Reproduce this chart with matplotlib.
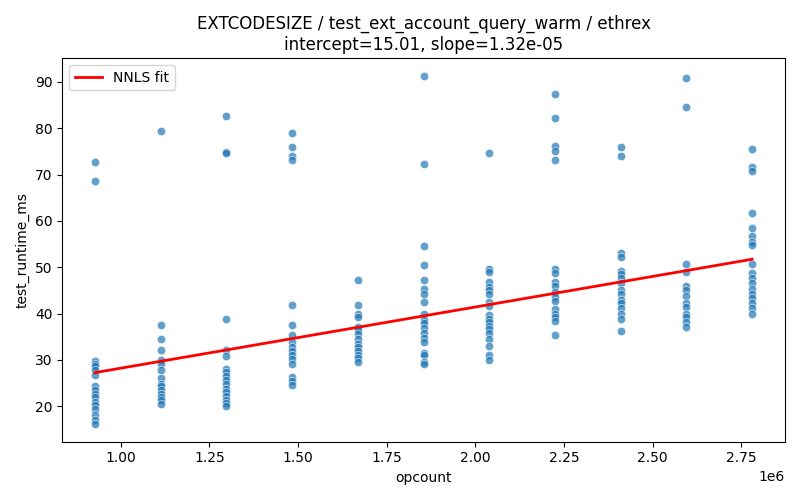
import numpy as np
import matplotlib
matplotlib.use('Agg')
from matplotlib import pyplot as plt

# opcount for each group of runs
opcounts = [927000, 1112400, 1297800, 1483200, 1668600, 1854000,
            2039400, 2224800, 2410200, 2595600, 2781000]

# runtime (ms) read per opcount group
runtimes = [
    [72.6, 68.7, 29.8, 29.2, 28.6, 27.8, 26.8, 24.3, 23.5, 22.7, 21.9, 20.9,
     20.2, 19.5, 18.1, 17.0, 16.1],
    [79.5, 37.5, 34.4, 32.2, 29.9, 29.1, 27.9, 26.0, 24.9, 24.3, 23.5, 22.7,
     22.0, 21.3, 20.4],
    [82.6, 74.8, 74.6, 38.9, 32.1, 30.8, 28.1, 27.4, 26.5, 25.6, 24.8, 23.8,
     23.1, 22.2, 21.3, 20.6, 20.1],
    [78.9, 75.9, 73.9, 73.1, 41.8, 37.6, 35.3, 33.9, 32.7, 31.9, 31.0, 30.1,
     29.2, 26.2, 25.5, 24.5],
    [47.2, 41.8, 40.0, 39.2, 37.1, 36.4, 35.5, 34.6, 33.5, 32.8, 31.9, 31.0,
     30.3, 29.6],
    [91.3, 72.2, 54.6, 50.5, 47.2, 45.4, 44.3, 42.5, 39.9, 38.7, 37.9, 36.8,
     35.7, 34.8, 33.9, 31.5, 31.0, 29.6, 29.2],
    [74.6, 49.7, 49.0, 46.7, 45.8, 45.1, 44.2, 42.5, 41.6, 39.7, 38.9, 38.2,
     37.3, 36.6, 35.7, 34.6, 33.0, 31.0, 29.9],
    [87.4, 82.1, 76.2, 75.1, 73.1, 49.7, 48.8, 46.8, 45.9, 44.7, 43.6, 42.7,
     40.9, 40.0, 39.2, 38.4, 35.3],
    [75.9, 74.1, 53.0, 52.1, 49.2, 48.5, 47.6, 46.5, 45.1, 44.2, 43.0, 42.2,
     41.1, 40.0, 38.9, 36.3],
    [90.8, 84.5, 50.6, 49.0, 45.9, 45.1, 43.8, 42.3, 41.4, 40.0, 39.2, 38.2,
     37.0],
    [75.6, 71.7, 70.8, 61.8, 58.4, 56.7, 55.5, 54.8, 50.6, 48.8, 47.6, 46.5,
     45.4, 44.3, 43.3, 42.2, 41.1, 40.0],
]

intercept = 15.01
slope = 1.32e-05

#flatten groups into x/y lists
xs = []
ys = []
for oc, group in zip(opcounts, runtimes):
    for v in group:
        xs.append(oc)
        ys.append(v)

fig, ax = plt.subplots(figsize=(8, 5), dpi=100)
ax.scatter(xs, ys, s=36, color='#1f77b4', alpha=0.7,
           edgecolors='white', linewidths=0.5)

xLine = np.array([min(opcounts), max(opcounts)])
ax.plot(xLine, intercept + slope * xLine, color='red', lw=2, label='NNLS fit')

ax.set_xlabel('opcount')
ax.set_ylabel('test_runtime_ms')
ax.set_title('EXTCODESIZE / test_ext_account_query_warm / ethrex\n'
             'intercept=%.2f, slope=%.2e' % (intercept, slope))
ax.legend(loc='upper left')

plt.tight_layout()
plt.savefig('out.png', dpi=100)
